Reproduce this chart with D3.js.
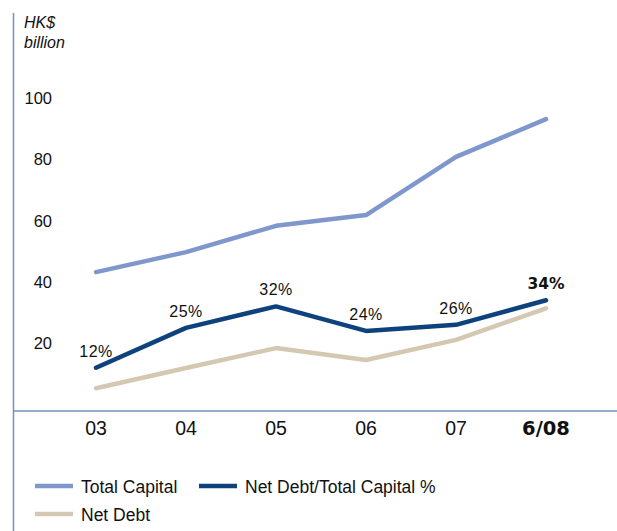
<!DOCTYPE html>
<html>
<head>
<meta charset="utf-8">
<script src="https://cdn.jsdelivr.net/npm/d3@7"></script>
<style>
  body { margin: 0; background: #fff; }
  text { font-family: "Liberation Sans", Arial, sans-serif; fill: #111; }
</style>
</head>
<body>
<svg width="617" height="531"></svg>
<script>
  var periods = ["03", "04", "05", "06", "07", "6/08"];
  var totalCapital = [43.2, 49.7, 58.3, 61.8, 80.8, 93.1];
  var gearing = [12, 25, 32, 24, 26, 34];
  var netDebt = [5.3, 11.9, 18.4, 14.5, 21.1, 31.4];
  var yTicks = [20, 40, 60, 80, 100];

  var svg = d3.select("svg");
  var axisColor = "#7891bd";
  var boldFont = "'DejaVu Sans', sans-serif";

  var x = d3.scalePoint().domain(periods).range([96, 546]);
  var y = d3.scaleLinear().domain([0, 100]).range([404.5, 98]);

  // axes lines
  svg.append("line")
    .attr("x1", 13.5).attr("x2", 13.5)
    .attr("y1", 13).attr("y2", 531)
    .attr("stroke", axisColor).attr("stroke-width", 1.5);

  svg.append("line")
    .attr("x1", 13).attr("x2", 617)
    .attr("y1", 411).attr("y2", 411)
    .attr("stroke", axisColor).attr("stroke-width", 1.5);

  // unit label
  svg.append("text").attr("x", 24).attr("y", 28)
    .attr("font-size", 16).attr("font-style", "italic").text("HK$");
  svg.append("text").attr("x", 24).attr("y", 48)
    .attr("font-size", 16).attr("font-style", "italic").text("billion");

  // y tick labels
  svg.selectAll(".ytick")
    .data(yTicks)
    .enter().append("text")
    .attr("x", 52)
    .attr("y", function (d) { return y(d) + 6; })
    .attr("text-anchor", "end")
    .attr("font-size", 16.5)
    .text(function (d) { return d; });

  // x tick labels
  var last = periods.length - 1;
  svg.selectAll(".xtick")
    .data(periods)
    .enter().append("text")
    .attr("x", function (d) { return x(d); })
    .attr("y", 435)
    .attr("text-anchor", "middle")
    .attr("font-size", 19.5)
    .style("font-family", function (d, i) { return i === last ? boldFont : null; })
    .attr("font-weight", function (d, i) { return i === last ? "bold" : "normal"; })
    .text(function (d) { return d; });

  var line = d3.line()
    .x(function (d, i) { return x(periods[i]); })
    .y(function (d) { return y(d); });

  var series = [
    { name: "Net Debt", values: netDebt, color: "#d5c8b3" },
    { name: "Total Capital", values: totalCapital, color: "#7f97cd" },
    { name: "Net Debt/Total Capital %", values: gearing, color: "#0e427d" }
  ];

  series.forEach(function (s) {
    svg.append("path")
      .attr("d", line(s.values))
      .attr("fill", "none")
      .attr("stroke", s.color)
      .attr("stroke-width", 4.5)
      .attr("stroke-linecap", "round")
      .attr("stroke-linejoin", "round");
  });

  // percentage labels
  svg.selectAll(".pct")
    .data(gearing)
    .enter().append("text")
    .attr("x", function (d, i) { return x(periods[i]); })
    .attr("y", function (d) { return y(d) - 11; })
    .attr("text-anchor", "middle")
    .attr("font-size", function (d, i) { return i === last ? 15.5 : 16; })
    .attr("letter-spacing", function (d, i) { return i === last ? 0 : 0.5; })
    .style("font-family", function (d, i) { return i === last ? boldFont : null; })
    .attr("font-weight", function (d, i) { return i === last ? "bold" : "normal"; })
    .text(function (d) { return d + "%"; });

  // legend
  var legend = [
    { name: "Total Capital", color: "#7f97cd", x: 35, y: 486 },
    { name: "Net Debt/Total Capital %", color: "#0e427d", x: 199, y: 486 },
    { name: "Net Debt", color: "#d5c8b3", x: 35, y: 514 }
  ];

  var lg = svg.selectAll(".legend")
    .data(legend)
    .enter().append("g")
    .attr("transform", function (d) { return "translate(" + d.x + "," + d.y + ")"; });

  lg.append("line")
    .attr("x1", 0).attr("x2", 38)
    .attr("stroke", function (d) { return d.color; })
    .attr("stroke-width", 4.5);

  lg.append("text")
    .attr("x", 46).attr("y", 6.5)
    .attr("font-size", 17.5)
    .text(function (d) { return d.name; });
</script>
</body>
</html>
